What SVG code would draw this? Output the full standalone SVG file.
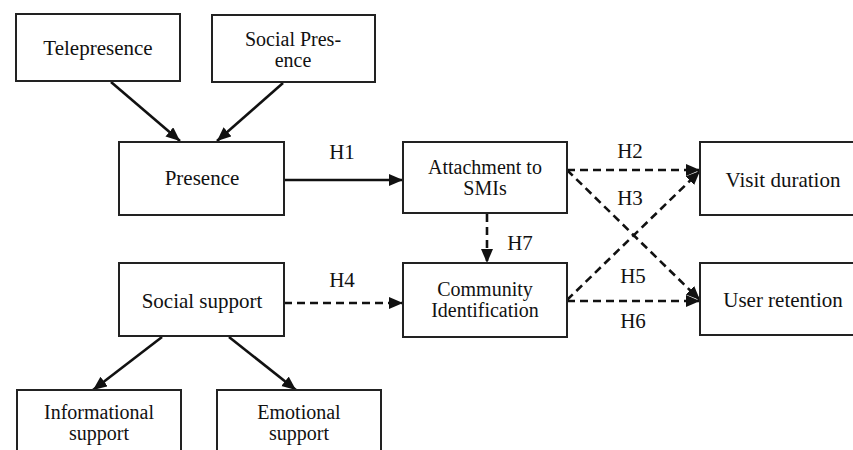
<svg xmlns="http://www.w3.org/2000/svg" width="853" height="450" viewBox="0 0 853 450">
<style>
.box{fill:#fff;stroke:#222;stroke-width:2}
.t{font-family:'Liberation Serif','Times New Roman',serif;font-size:21px;fill:#111;text-anchor:middle}
.t2{font-size:20px}
.c{stroke:#111;stroke-width:2.6;fill:none}
.d{stroke-dasharray:8,5}
</style>
<defs>
<marker id="ah" markerUnits="userSpaceOnUse" markerWidth="16" markerHeight="14" refX="14" refY="6" orient="auto">
<path d="M0,0 L14,6 L0,12 z" fill="#111"/>
</marker>
</defs>
<rect width="853" height="450" fill="#fff"/>
<g id="connectors">
<line class="c" x1="111" y1="82" x2="180" y2="141" marker-end="url(#ah)"/>
<line class="c" x1="283" y1="83" x2="217" y2="141" marker-end="url(#ah)"/>
<line class="c" x1="284" y1="180" x2="403" y2="180" marker-end="url(#ah)"/>
<line class="c d" x1="567" y1="170" x2="700" y2="170" marker-end="url(#ah)"/>
<line class="c d" x1="567" y1="170" x2="700" y2="300" marker-end="url(#ah)"/>
<line class="c d" x1="567" y1="300" x2="700" y2="171" marker-end="url(#ah)"/>
<line class="c d" x1="567" y1="301" x2="700" y2="301" marker-end="url(#ah)"/>
<line class="c d" x1="487" y1="214" x2="487" y2="263" marker-end="url(#ah)"/>
<line class="c d" x1="284" y1="303" x2="403" y2="303" marker-end="url(#ah)"/>
<line class="c" x1="162" y1="337" x2="93" y2="390" marker-end="url(#ah)"/>
<line class="c" x1="229" y1="337" x2="296" y2="390" marker-end="url(#ah)"/>
</g>
<g id="labels">
<text class="t" x="342" y="159">H1</text>
<text class="t" x="630" y="158">H2</text>
<text class="t" x="630" y="205">H3</text>
<text class="t" x="342" y="287">H4</text>
<text class="t" x="633" y="283">H5</text>
<text class="t" x="633" y="328">H6</text>
<text class="t" x="520" y="250">H7</text>
</g>
<g id="telepresence"><rect class="box" x="16" y="14" width="164" height="67"/><text class="t" x="98" y="55">Telepresence</text></g>
<g id="social-presence"><rect class="box" x="212" y="15" width="163" height="67"/><text class="t t2" x="293" y="46">Social Pres-</text><text class="t t2" x="293" y="67">ence</text></g>
<g id="presence"><rect class="box" x="119" y="142" width="165" height="73"/><text class="t" x="202" y="185">Presence</text></g>
<g id="attachment"><rect class="box" x="403" y="142" width="164" height="71"/><text class="t t2" x="485" y="174">Attachment to</text><text class="t t2" x="485" y="195">SMIs</text></g>
<g id="visit-duration"><rect class="box" x="700" y="142" width="165" height="73"/><text class="t" x="783" y="187">Visit duration</text></g>
<g id="community"><rect class="box" x="403" y="263" width="164" height="74"/><text class="t t2" x="485" y="296">Community</text><text class="t t2" x="485" y="317">Identification</text></g>
<g id="user-retention"><rect class="box" x="700" y="263" width="165" height="72"/><text class="t" x="783" y="307">User retention</text></g>
<g id="social-support"><rect class="box" x="119" y="263" width="165" height="73"/><text class="t" x="202" y="308">Social support</text></g>
<g id="informational"><rect class="box" x="17" y="390" width="164" height="80"/><text class="t t2" x="99" y="419">Informational</text><text class="t t2" x="99" y="440">support</text></g>
<g id="emotional"><rect class="box" x="217" y="390" width="164" height="80"/><text class="t t2" x="299" y="419">Emotional</text><text class="t t2" x="299" y="440">support</text></g>
</svg>
